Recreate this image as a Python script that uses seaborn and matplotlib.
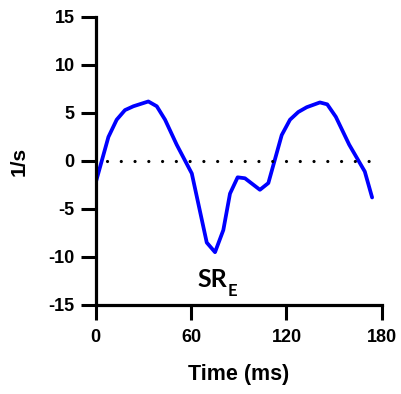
import pandas as pd
import matplotlib.pyplot as plt
import seaborn as sns

# strain rate trace
time_ms = [0.3, 8.1, 13.3, 18.5, 23.8, 33.2, 38.5, 43.7, 51.0, 60.5, 69.9, 75.1,
           80.3, 84.5, 89.3, 93.9, 103.3, 108.6, 117.0, 122.2, 127.4, 132.7,
           141.0, 145.6, 151.0, 159.4, 165.0, 169.2, 173.8]
strain_rate = [-2.15, 2.5, 4.3, 5.3, 5.7, 6.2, 5.7, 4.3, 1.7, -1.3, -8.5, -9.5,
               -7.2, -3.4, -1.7, -1.8, -3.0, -2.3, 2.7, 4.3, 5.1, 5.6,
               6.1, 5.9, 4.6, 1.7, 0.1, -1.1, -3.8]
x_ticks = [0, 60, 120, 180]
y_ticks = [-15, -10, -5, 0, 5, 10, 15]

df = pd.DataFrame({"time": time_ms, "sr": strain_rate})

sns.set_style("ticks")
plt.rcParams['font.family'] = ['Liberation Sans', 'DejaVu Sans']
plt.rcParams['font.weight'] = 'bold'
plt.rcParams['axes.unicode_minus'] = False
plt.rcParams['text.color'] = 'black'
plt.rcParams['axes.labelcolor'] = 'black'
plt.rcParams['xtick.color'] = 'black'
plt.rcParams['ytick.color'] = 'black'

fig = plt.figure(figsize=(4.02, 3.94), dpi=100)
ax = fig.add_axes([0.2376, 0.2259, 0.7126, 0.731])

sns.lineplot(data=df, x="time", y="sr", ax=ax, color="#0000ff", linewidth=2.7,
             sort=False)
ax.hlines(0, 7, 173, colors="black", linestyles=(0, (0.01, 4.3)), linewidth=2.3,
          capstyle="round")

ax.set_xlim(0, 180)
ax.set_ylim(-15, 15)
ax.set_xticks(x_ticks)
ax.set_yticks(y_ticks)
ax.set_xlabel("Time (ms)", fontsize=15.5, fontweight="bold", labelpad=13)
ax.set_ylabel("1/s", fontsize=15, fontweight="bold", labelpad=14)
ax.tick_params(axis="both", labelsize=13, width=2.2, length=11, pad=4, color="black")
ax.tick_params(axis="x", pad=6)
for lab in ax.get_xticklabels() + ax.get_yticklabels():
    lab.set_fontweight("bold")

for side in ["top", "right"]:
    ax.spines[side].set_visible(False)
for side in ["left", "bottom"]:
    ax.spines[side].set_linewidth(2.3)
    ax.spines[side].set_color("black")

sr = ax.text(63.9, -13.1, "SR", fontsize=18, fontweight="bold", family=["Lato", "DejaVu Sans"],
             ha="left", va="baseline")
ax.annotate("E", xy=(1, 0), xycoords=sr, xytext=(0.5, -3.5), textcoords="offset points",
            fontsize=12, fontweight="bold", family=["Lato", "DejaVu Sans"],
            ha="left", va="baseline")

fig.savefig("out.png", dpi=100)
